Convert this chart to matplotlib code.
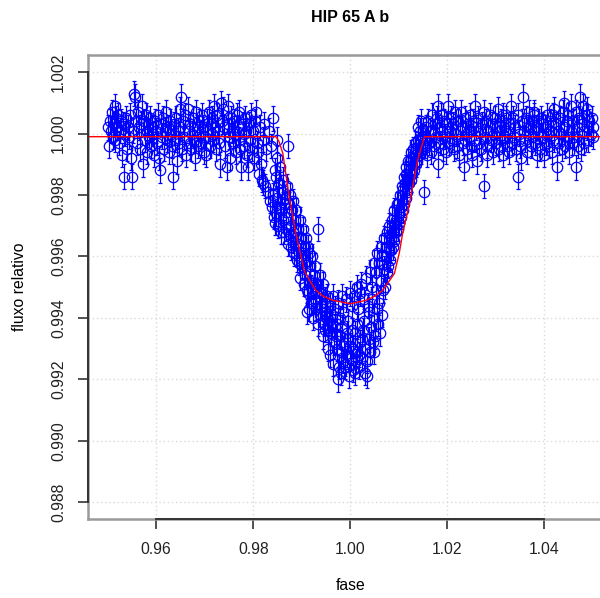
import numpy as np
import matplotlib
matplotlib.use('Agg')
import matplotlib.pyplot as plt

plt.rcParams['font.family'] = ['Liberation Sans', 'DejaVu Sans']

# pontos antes do transito
pre_phase = [
    0.9500, 0.9502, 0.9504, 0.9506, 0.9508, 0.9510, 0.9512, 0.9514, 0.9516, 0.9518,
    0.9520, 0.9522, 0.9524, 0.9526, 0.9528, 0.9530, 0.9532, 0.9534, 0.9536, 0.9538,
    0.9540, 0.9542, 0.9544, 0.9546, 0.9548, 0.9550, 0.9552, 0.9555, 0.9557, 0.9559,
    0.9561, 0.9563, 0.9565, 0.9567, 0.9569, 0.9571, 0.9572, 0.9574, 0.9576, 0.9578,
    0.9580, 0.9582, 0.9584, 0.9586, 0.9588, 0.9590, 0.9592, 0.9594, 0.9596, 0.9598,
    0.9600, 0.9602, 0.9604, 0.9606, 0.9608, 0.9610, 0.9612, 0.9614, 0.9616, 0.9618,
    0.9620, 0.9622, 0.9624, 0.9626, 0.9628, 0.9630, 0.9632, 0.9634, 0.9636, 0.9638,
    0.9640, 0.9642, 0.9644, 0.9646, 0.9648, 0.9650, 0.9651, 0.9653, 0.9655, 0.9658,
    0.9660, 0.9662, 0.9665, 0.9667, 0.9669, 0.9670, 0.9672, 0.9674, 0.9676, 0.9678,
    0.9680, 0.9682, 0.9684, 0.9686, 0.9688, 0.9690, 0.9692, 0.9694, 0.9696, 0.9698,
    0.9700, 0.9702, 0.9704, 0.9706, 0.9708, 0.9710, 0.9712, 0.9714, 0.9716, 0.9718,
    0.9720, 0.9722, 0.9724, 0.9726, 0.9728, 0.9730, 0.9732, 0.9733, 0.9735, 0.9738,
    0.9740, 0.9742, 0.9745, 0.9747, 0.9749, 0.9750, 0.9752, 0.9754, 0.9756, 0.9758,
    0.9760, 0.9762, 0.9764, 0.9766, 0.9768, 0.9770, 0.9771, 0.9773, 0.9775, 0.9778,
    0.9780, 0.9782, 0.9784, 0.9786, 0.9788, 0.9790, 0.9792, 0.9794, 0.9796, 0.9798,
    0.9800, 0.9802, 0.9804, 0.9806, 0.9808, 0.9810, 0.9812, 0.9814, 0.9816, 0.9818,
    0.9820, 0.9821, 0.9823, 0.9825, 0.9827, 0.9830, 0.9832, 0.9834, 0.9836, 0.9838,
    0.9840, 0.9841, 0.9842, 0.9844, 0.9845]
pre_flux = [
    1.0002, 0.9996, 1.0004, 1.0001, 1.0007, 0.9999, 1.0003, 1.0009, 0.9998, 1.0005,
    1.0002, 1.0006, 0.9997, 1.0001, 1.0004, 0.9993, 1.0003, 0.9986, 1.0000, 1.0005,
    0.9995, 1.0002, 0.9999, 1.0006, 0.9992, 0.9986, 1.0001, 1.0013, 1.0012, 1.0004,
    0.9997, 1.0007, 1.0002, 0.9995, 1.0003, 1.0009, 0.9990, 1.0004, 0.9998, 1.0006,
    1.0001, 0.9994, 1.0003, 0.9999, 1.0005, 0.9996, 1.0002, 1.0000, 0.9993, 1.0004,
    1.0001, 0.9997, 1.0006, 0.9992, 0.9988, 1.0003, 0.9999, 1.0005, 0.9995, 1.0001,
    1.0007, 0.9998, 1.0002, 0.9994, 1.0004, 1.0000, 0.9996, 0.9986, 1.0003, 0.9998,
    1.0005, 0.9991, 1.0001, 0.9997, 1.0008, 1.0002, 1.0012, 0.9995, 1.0004, 0.9999,
    1.0006, 0.9993, 1.0008, 1.0001, 0.9997, 1.0003, 0.9995, 1.0000, 1.0005, 0.9998,
    0.9992, 1.0007, 1.0002, 0.9996, 1.0004, 1.0000, 0.9997, 1.0006, 1.0002, 0.9994,
    0.9999, 0.9993, 1.0004, 1.0001, 1.0007, 0.9996, 1.0003, 1.0000, 1.0005, 0.9998,
    1.0009, 1.0002, 0.9995, 1.0006, 1.0001, 0.9997, 0.9990, 1.0010, 1.0004, 1.0008,
    1.0002, 0.9996, 0.9989, 1.0009, 1.0003, 0.9999, 0.9992, 1.0005, 1.0001, 0.9997,
    1.0004, 1.0000, 0.9994, 1.0006, 1.0002, 0.9998, 1.0007, 0.9995, 0.9989, 1.0003,
    1.0000, 0.9996, 1.0005, 1.0001, 0.9993, 0.9989, 1.0003, 0.9998, 1.0006, 0.9995,
    1.0001, 0.9992, 1.0004, 1.0007, 0.9997, 0.9994, 0.9987, 1.0002, 0.9990, 0.9985,
    0.9998, 0.9984, 1.0003, 0.9983, 0.9995, 0.9981, 1.0001, 0.9978, 0.9996, 0.9976,
    1.0005, 0.9980, 0.9973, 0.9988, 0.9971]

# pontos durante o transito
in_phase = [
    0.9846, 0.9847, 0.9848, 0.9849, 0.9850, 0.9852, 0.9853, 0.9855, 0.9856, 0.9858,
    0.9859, 0.9861, 0.9862, 0.9864, 0.9866, 0.9867, 0.9869, 0.9871, 0.9872, 0.9873,
    0.9875, 0.9876, 0.9878, 0.9880, 0.9881, 0.9883, 0.9884, 0.9886, 0.9888, 0.9889,
    0.9891, 0.9892, 0.9894, 0.9896, 0.9897, 0.9899, 0.9901, 0.9902, 0.9904, 0.9906,
    0.9907, 0.9909, 0.9910, 0.9912, 0.9913, 0.9915, 0.9917, 0.9918, 0.9920, 0.9922,
    0.9923, 0.9925, 0.9927, 0.9928, 0.9930, 0.9932, 0.9934, 0.9935, 0.9937, 0.9938,
    0.9940, 0.9942, 0.9943, 0.9945, 0.9947, 0.9948, 0.9950, 0.9952, 0.9953, 0.9955,
    0.9957, 0.9958, 0.9960, 0.9962, 0.9963, 0.9965, 0.9967, 0.9968, 0.9970, 0.9972,
    0.9973, 0.9975, 0.9977, 0.9978, 0.9980, 0.9981, 0.9983, 0.9985, 0.9986, 0.9988,
    0.9990, 0.9991, 0.9993, 0.9995, 0.9996, 0.9998, 1.0000, 1.0001, 1.0003, 1.0005,
    1.0006, 1.0008, 1.0010, 1.0011, 1.0013, 1.0015, 1.0016, 1.0018, 1.0020, 1.0021,
    1.0023, 1.0025, 1.0026, 1.0028, 1.0030, 1.0031, 1.0033, 1.0035, 1.0036, 1.0038,
    1.0040, 1.0041, 1.0043, 1.0045, 1.0046, 1.0048, 1.0050, 1.0051, 1.0053, 1.0055,
    1.0056, 1.0058, 1.0060, 1.0061, 1.0063, 1.0065, 1.0066, 1.0068, 1.0070, 1.0071,
    1.0073, 1.0075, 1.0076, 1.0078, 1.0080, 1.0081, 1.0083, 1.0085, 1.0086, 1.0088,
    1.0090, 1.0091, 1.0093, 1.0095, 1.0096, 1.0098, 1.0100, 1.0101, 1.0103, 1.0105,
    1.0106, 1.0108, 1.0110, 1.0111, 1.0113, 1.0115, 1.0116, 1.0118, 1.0120, 1.0121,
    1.0123, 1.0125, 1.0126, 1.0128, 1.0130, 1.0131, 1.0133, 1.0135, 1.0136, 1.0138,
    1.0140, 1.0141, 1.0143, 1.0145, 1.0146, 1.0148, 1.0150, 1.0151]
in_flux = [
    0.9986, 0.9974, 0.9992, 0.9979, 0.9998, 0.9970, 0.9984, 0.9976, 0.9989, 0.9968,
    0.9981, 0.9972, 0.9985, 0.9968, 0.9979, 0.9969, 0.9983, 0.9996, 0.9964, 0.9977,
    0.9967, 0.9980, 0.9963, 0.9975, 0.9965, 0.9978, 0.9961, 0.9972, 0.9961, 0.9975,
    0.9959, 0.9969, 0.9958, 0.9972, 0.9953, 0.9966, 0.9957, 0.9969, 0.9951, 0.9963,
    0.9954, 0.9966, 0.9942, 0.9963, 0.9948, 0.9961, 0.9952, 0.9957, 0.9945, 0.9960,
    0.9949, 0.9954, 0.9946, 0.9957, 0.9943, 0.9951, 0.9969, 0.9947, 0.9954, 0.9941,
    0.9948, 0.9944, 0.9951, 0.9938, 0.9945, 0.9946, 0.9942, 0.9940, 0.9947, 0.9936,
    0.9939, 0.9944, 0.9935, 0.9941, 0.9938, 0.9947, 0.9932, 0.9943, 0.9934, 0.9938,
    0.9930, 0.9945, 0.9924, 0.9940, 0.9929, 0.9922, 0.9947, 0.9926, 0.9942, 0.9931,
    0.9924, 0.9946, 0.9928, 0.9939, 0.9933, 0.9921, 0.9948, 0.9927, 0.9944, 0.9930,
    0.9923, 0.9947, 0.9935, 0.9926, 0.9950, 0.9929, 0.9943, 0.9924, 0.9932, 0.9948,
    0.9951, 0.9927, 0.9936, 0.9946, 0.9922, 0.9930, 0.9953, 0.9926, 0.9944, 0.9933,
    0.9929, 0.9955, 0.9937, 0.9950, 0.9932, 0.9958, 0.9940, 0.9934, 0.9955, 0.9943,
    0.9961, 0.9938, 0.9958, 0.9935, 0.9963, 0.9941, 0.9960, 0.9949, 0.9966, 0.9950,
    0.9963, 0.9955, 0.9968, 0.9957, 0.9970, 0.9959, 0.9967, 0.9962, 0.9972, 0.9963,
    0.9975, 0.9965, 0.9971, 0.9968, 0.9977, 0.9969, 0.9974, 0.9971, 0.9980, 0.9973,
    0.9983, 0.9975, 0.9986, 0.9977, 0.9984, 0.9979, 0.9989, 0.9981, 0.9991, 0.9984,
    0.9988, 0.9985, 0.9994, 0.9987, 0.9992, 0.9988, 0.9997, 0.9990, 0.9995, 0.9991,
    1.0002, 0.9993, 0.9998, 0.9994, 1.0004, 0.9996, 1.0001, 0.9997]

# pontos dispersos no transito (entre os dois ramos)
extra_phase = [
    0.9851, 0.9857, 0.9863, 0.9868, 0.9877, 0.9882, 0.9887, 0.9893, 0.9898, 0.9903,
    0.9908, 0.9911, 0.9916, 0.9919, 0.9924, 0.9929, 0.9933, 0.9939, 0.9944, 0.9949,
    0.9954, 0.9959, 0.9964, 0.9969, 0.9974, 0.9979, 0.9984, 0.9989, 0.9994, 0.9999,
    1.0004, 1.0009, 1.0014, 1.0019, 1.0024, 1.0029, 1.0034, 1.0039, 1.0044, 1.0049,
    1.0054, 1.0059, 1.0064, 1.0069, 1.0074, 1.0079, 1.0084, 1.0089, 1.0094, 1.0099,
    1.0104, 1.0109, 1.0114, 1.0119, 1.0124, 1.0129, 1.0134, 1.0139, 1.0144, 1.0149]
extra_flux = [
    0.9981, 0.9975, 0.9977, 0.9973, 0.9970, 0.9968, 0.9966, 0.9964, 0.9960, 0.9961,
    0.9958, 0.9949, 0.9943, 0.9950, 0.9940, 0.9948, 0.9938, 0.9944, 0.9934, 0.9936,
    0.9930, 0.9928, 0.9925, 0.9937, 0.9920, 0.9934, 0.9937, 0.9925, 0.9935, 0.9931,
    0.9936, 0.9922, 0.9938, 0.9928, 0.9933, 0.9939, 0.9921, 0.9942, 0.9946, 0.9929,
    0.9949, 0.9945, 0.9952, 0.9956, 0.9960, 0.9962, 0.9966, 0.9968, 0.9972, 0.9977,
    0.9976, 0.9982, 0.9987, 0.9986, 0.9991, 0.9995, 0.9993, 0.9998, 1.0001, 0.9999]

# pontos depois do transito
post_phase = [
    1.0152, 1.0154, 1.0156, 1.0158, 1.0159, 1.0161, 1.0163, 1.0165, 1.0167, 1.0169,
    1.0171, 1.0173, 1.0175, 1.0177, 1.0179, 1.0180, 1.0182, 1.0184, 1.0186, 1.0188,
    1.0190, 1.0192, 1.0194, 1.0196, 1.0198, 1.0200, 1.0202, 1.0204, 1.0206, 1.0208,
    1.0210, 1.0212, 1.0214, 1.0216, 1.0218, 1.0220, 1.0222, 1.0225, 1.0227, 1.0228,
    1.0230, 1.0232, 1.0235, 1.0237, 1.0239, 1.0240, 1.0242, 1.0244, 1.0246, 1.0248,
    1.0250, 1.0252, 1.0254, 1.0256, 1.0258, 1.0260, 1.0262, 1.0264, 1.0266, 1.0268,
    1.0270, 1.0272, 1.0275, 1.0276, 1.0278, 1.0280, 1.0282, 1.0283, 1.0285, 1.0288,
    1.0290, 1.0292, 1.0294, 1.0296, 1.0298, 1.0300, 1.0302, 1.0304, 1.0306, 1.0308,
    1.0310, 1.0312, 1.0314, 1.0316, 1.0318, 1.0320, 1.0322, 1.0324, 1.0326, 1.0328,
    1.0330, 1.0331, 1.0333, 1.0336, 1.0338, 1.0340, 1.0342, 1.0345, 1.0346, 1.0348,
    1.0350, 1.0352, 1.0354, 1.0357, 1.0359, 1.0360, 1.0362, 1.0364, 1.0366, 1.0368,
    1.0370, 1.0372, 1.0374, 1.0376, 1.0378, 1.0379, 1.0381, 1.0384, 1.0386, 1.0388,
    1.0390, 1.0392, 1.0394, 1.0396, 1.0398, 1.0400, 1.0402, 1.0404, 1.0406, 1.0408,
    1.0410, 1.0412, 1.0414, 1.0416, 1.0418, 1.0420, 1.0421, 1.0424, 1.0426, 1.0428,
    1.0430, 1.0432, 1.0434, 1.0436, 1.0438, 1.0440, 1.0441, 1.0443, 1.0446, 1.0448,
    1.0450, 1.0452, 1.0455, 1.0456, 1.0458, 1.0460, 1.0462, 1.0465, 1.0466, 1.0468,
    1.0470, 1.0472, 1.0474, 1.0476, 1.0478, 1.0479, 1.0481, 1.0483, 1.0486, 1.0488,
    1.0489, 1.0491, 1.0493, 1.0496, 1.0498, 1.0500, 1.0501]
post_flux = [
    0.9981, 0.9996, 1.0002, 0.9993, 0.9998, 1.0004, 0.9997, 1.0001, 0.9994, 1.0006,
    1.0000, 0.9996, 1.0003, 0.9999, 1.0005, 1.0009, 0.9990, 1.0002, 0.9997, 1.0006,
    1.0001, 0.9995, 1.0004, 0.9999, 0.9994, 1.0003, 1.0009, 0.9997, 1.0001, 1.0005,
    0.9998, 1.0003, 0.9995, 1.0007, 1.0000, 0.9996, 1.0004, 0.9993, 1.0001, 1.0007,
    1.0002, 0.9997, 0.9989, 1.0005, 1.0000, 0.9995, 1.0003, 0.9999, 1.0006, 0.9996,
    1.0001, 0.9993, 1.0004, 0.9998, 1.0009, 1.0002, 0.9991, 1.0005, 0.9997, 1.0001,
    0.9995, 1.0003, 0.9983, 1.0007, 0.9999, 1.0004, 0.9996, 0.9993, 1.0001, 1.0006,
    0.9998, 1.0003, 0.9994, 1.0000, 1.0005, 0.9997, 1.0002, 1.0008, 0.9995, 1.0001,
    1.0004, 0.9998, 1.0006, 0.9993, 1.0002, 0.9999, 1.0005, 0.9996, 1.0001, 0.9994,
    1.0003, 1.0009, 0.9997, 1.0005, 0.9999, 1.0002, 0.9995, 0.9986, 1.0006, 1.0000,
    0.9996, 0.9992, 1.0004, 1.0012, 1.0001, 0.9998, 1.0005, 0.9994, 1.0002, 1.0007,
    1.0000, 0.9996, 1.0004, 0.9999, 1.0006, 1.0007, 0.9997, 1.0002, 0.9993, 1.0004,
    1.0001, 0.9995, 1.0005, 0.9999, 1.0003, 0.9993, 1.0002, 0.9997, 1.0006, 1.0000,
    0.9996, 1.0004, 1.0001, 0.9994, 1.0006, 1.0008, 0.9998, 1.0003, 0.9989, 1.0001,
    0.9997, 1.0005, 1.0000, 0.9995, 1.0007, 1.0002, 1.0010, 0.9996, 1.0004, 0.9999,
    1.0006, 0.9994, 1.0009, 1.0001, 0.9997, 1.0004, 0.9999, 0.9989, 1.0007, 1.0002,
    0.9996, 1.0005, 1.0012, 0.9995, 1.0003, 1.0009, 1.0001, 0.9997, 1.0006, 1.0002,
    1.0008, 0.9998, 1.0004, 1.0000, 1.0005, 1.0002, 0.9999]

erro = 0.0004

# modelo ajustado (curva vermelha)
model_phase = [0.940, 0.9847, 0.9853, 0.9861, 0.9874, 0.9888, 0.9905, 0.9915, 0.9929,
               0.9945, 0.9964, 1.0001, 1.0032, 1.0050, 1.0067, 1.0091, 1.0101, 1.0108,
               1.0122, 1.0139, 1.0153, 1.060]
model_flux = [0.9999, 0.9999, 0.99975, 0.99936, 0.99795, 0.99674, 0.99555, 0.99525, 0.9949,
              0.9947, 0.99457, 0.99446, 0.99457, 0.9947, 0.9949, 0.99544, 0.9961, 0.99674,
              0.99772, 0.99913, 0.9999, 0.9999]

xticks = [0.96, 0.98, 1.00, 1.02, 1.04]
yticks = [0.988, 0.990, 0.992, 0.994, 0.996, 0.998, 1.000, 1.002]

fase = np.array(pre_phase + in_phase + extra_phase + post_phase)
fluxo = np.array(pre_flux + in_flux + extra_flux + post_flux)

fig = plt.figure(figsize=(6, 5.98), dpi=100)
ax = fig.add_axes([0.1472, 0.1316, 0.873, 0.7764])

ax.set_xlim(0.946, 1.054)
ax.set_ylim(0.98744, 1.00256)
ax.set_xticks(xticks)
ax.set_yticks(yticks)
ax.set_xticklabels(['%.2f' % t for t in xticks])
ax.set_yticklabels(['%.3f' % t for t in yticks], rotation=90, va='center')
ax.grid(True, color='#d9d9d9', linestyle=(0, (1, 2)), linewidth=1)
ax.set_axisbelow(True)

ax.errorbar(fase, fluxo, yerr=erro, fmt='o', mfc='none', mec='blue', ecolor='blue',
            ms=7.5, mew=0.9, elinewidth=0.9, capsize=1.3, capthick=0.9, zorder=3)
ax.plot(model_phase, model_flux, color='red', lw=1.0, zorder=4)

for s in ax.spines.values():
    s.set_color('#9a9a9a')
    s.set_linewidth(1.8)
ax.tick_params(axis='both', colors='#333333', length=7, width=1.2, labelsize=11.3,
               labelcolor='#222222')
ax.tick_params(axis='x', pad=9)
ax.tick_params(axis='y', pad=9)

# linhas dos eixos (como no R)
ax.plot([0, 0], [yticks[0], yticks[-1]], transform=ax.get_yaxis_transform(),
        color='#333333', lw=1.4, clip_on=False, zorder=5)
ax.plot([xticks[0], xticks[-1]], [0, 0], transform=ax.get_xaxis_transform(),
        color='#333333', lw=1.4, clip_on=False, zorder=5)

xc = 0.1472 + 0.873 / 2
fig.text(xc, 1 - 17 / 598, 'HIP 65 A b', ha='center', va='center',
         fontsize=11.5, fontweight='bold')
fig.text(xc, 1 - 585 / 598, 'fase', ha='center', va='center', fontsize=11.3)
fig.text(20 / 600, 1 - 287 / 598, 'fluxo relativo', ha='center', va='center',
         rotation=90, fontsize=11.3)

fig.savefig('out.png', dpi=100)
